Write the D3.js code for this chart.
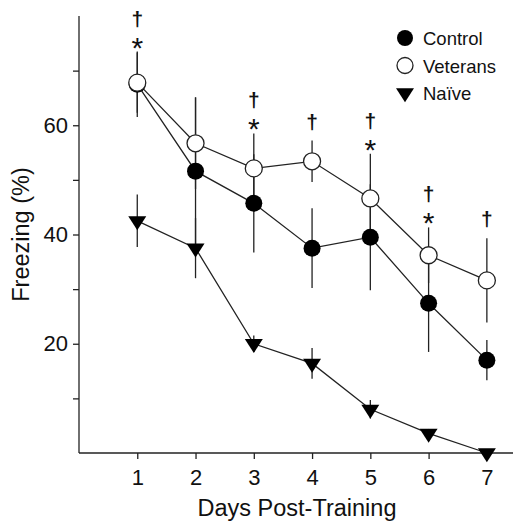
<!DOCTYPE html>
<html>
<head>
<meta charset="utf-8">
<script src="https://cdn.jsdelivr.net/npm/d3@7"></script>
<style>
  body { margin: 0; background: #fff; }
  svg { display: block; font-family: Arial, "Liberation Sans", sans-serif; }
</style>
</head>
<body>
<div id="chart"></div>
<script>
// Data
const days = [1, 2, 3, 4, 5, 6, 7];
const control = [67.5, 51.6, 45.7, 37.5, 39.5, 27.4, 17.0];
const controlErr = [6.0, 13.5, 9.0, 7.3, 9.7, 8.9, 3.7];
const veterans = [67.8, 56.7, 52.1, 53.4, 46.6, 36.2, 31.6];
const veteransErr = [5.5, 8.4, 6.4, 3.8, 8.2, 5.1, 7.7];
const naive = [42.5, 37.5, 20.0, 16.4, 8.0, 3.6, 0.0];
const naiveErr = [4.8, 5.5, 1.5, 2.8, 1.7, 0.8, 0.5];
const marks = ['†*', '', '†*', '†', '†*', '†*', '†'];
const yTicks = [20, 40, 60];
const yMinorTicks = [10, 30, 50, 70];
const legendItems = ['Control', 'Veterans', 'Naïve'];

const width = 513, height = 522;

const svg = d3.select('#chart').append('svg')
    .attr('width', width)
    .attr('height', height);

// Scales
const x = d3.scaleLinear().domain([0, 7.5]).range([79, 516]);
const y = d3.scaleLinear().domain([0, 80]).range([453, 16]);

// Axes
const yAxis = svg.append('g')
    .attr('transform', `translate(${x(0)},0)`)
    .call(d3.axisLeft(y).tickValues(yTicks.concat(yMinorTicks)).tickSize(6).tickPadding(5)
        .tickFormat(d => yTicks.includes(d) ? d : ''));
yAxis.select('.domain').attr('d', `M0,${y(0)}V${y(80)}`);

const xAxis = svg.append('g')
    .attr('transform', `translate(0,${y(0)})`)
    .call(d3.axisBottom(x).tickValues(days).tickSize(6).tickPadding(10).tickFormat(d3.format('d')));
xAxis.select('.domain').attr('d', `M${x(0)},0H${x(7.5)}`);

svg.selectAll('.domain, .tick line').attr('stroke', '#222').attr('stroke-width', 1.3);
svg.selectAll('.tick text').attr('fill', '#111').style('font-size', '22px');

// Axis titles
svg.append('text')
    .attr('x', 297)
    .attr('y', 516)
    .attr('text-anchor', 'middle')
    .style('font-size', '23.5px')
    .attr('fill', '#111')
    .text('Days Post-Training');

svg.append('text')
    .attr('transform', `translate(29,${y(40)}) rotate(-90)`)
    .attr('text-anchor', 'middle')
    .style('font-size', '23.5px')
    .attr('fill', '#111')
    .text('Freezing (%)');

// Error bars
function errorBars(vals, errs) {
    svg.append('g').selectAll('line')
        .data(days)
        .enter().append('line')
        .attr('x1', d => x(d))
        .attr('x2', d => x(d))
        .attr('y1', (d, i) => y(vals[i] - errs[i]))
        .attr('y2', (d, i) => y(vals[i] + errs[i]))
        .attr('stroke', '#222')
        .attr('stroke-width', 1.3);
}
errorBars(naive, naiveErr);
errorBars(control, controlErr);
errorBars(veterans, veteransErr);

// Lines
const line = d3.line().x((d, i) => x(days[i])).y(d => y(d));
[naive, control, veterans].forEach(vals => {
    svg.append('path')
        .datum(vals)
        .attr('d', line)
        .attr('fill', 'none')
        .attr('stroke', '#222')
        .attr('stroke-width', 1.3);
});

// Downward triangle, centred on its centroid
const triDown = {
    draw(context, size) {
        const w = 18, h = 14;
        context.moveTo(-w / 2, -h / 3);
        context.lineTo(w / 2, -h / 3);
        context.lineTo(0, 2 * h / 3);
        context.closePath();
    }
};
const tri = d3.symbol().type(triDown);

// Markers
svg.append('g').selectAll('path')
    .data(naive)
    .enter().append('path')
    .attr('d', tri)
    .attr('transform', (d, i) => `translate(${x(days[i])},${y(d)})`)
    .attr('fill', '#000');

svg.append('g').selectAll('circle')
    .data(control)
    .enter().append('circle')
    .attr('cx', (d, i) => x(days[i]))
    .attr('cy', d => y(d))
    .attr('r', 8.5)
    .attr('fill', '#000');

svg.append('g').selectAll('circle')
    .data(veterans)
    .enter().append('circle')
    .attr('cx', (d, i) => x(days[i]))
    .attr('cy', d => y(d))
    .attr('r', 8.5)
    .attr('fill', '#fff')
    .attr('stroke', '#222')
    .attr('stroke-width', 1.3);

// Significance marks above the top error bar
days.forEach((d, i) => {
    const m = marks[i];
    if (!m) return;
    const top = y(Math.max(control[i] + controlErr[i], veterans[i] + veteransErr[i]));
    let daggerY = top - 12;
    if (m.includes('*')) {
        svg.append('text')
            .attr('x', x(d))
            .attr('y', top + 6)
            .attr('text-anchor', 'middle')
            .style('font-size', '30px')
            .attr('fill', '#111')
            .text('*');
        daggerY = top - 26;
    }
    svg.append('text')
        .attr('x', x(d))
        .attr('y', daggerY)
        .attr('text-anchor', 'middle')
        .style('font-size', '21px')
        .style('font-weight', 'bold')
        .attr('fill', '#111')
        .text('†');
});

// Legend
const legend = svg.append('g').attr('transform', 'translate(405,38)');
legendItems.forEach((name, i) => {
    const g = legend.append('g').attr('transform', `translate(0,${i * 27.5})`);
    if (i === 0) {
        g.append('circle').attr('r', 8).attr('fill', '#000');
    } else if (i === 1) {
        g.append('circle').attr('r', 8).attr('fill', '#fff').attr('stroke', '#222').attr('stroke-width', 1.3);
    } else {
        g.append('path').attr('d', tri).attr('fill', '#000');
    }
    g.append('text')
        .attr('x', 18)
        .attr('y', 7)
        .style('font-size', '18.5px')
        .attr('fill', '#111')
        .text(name);
});
</script>
</body>
</html>
